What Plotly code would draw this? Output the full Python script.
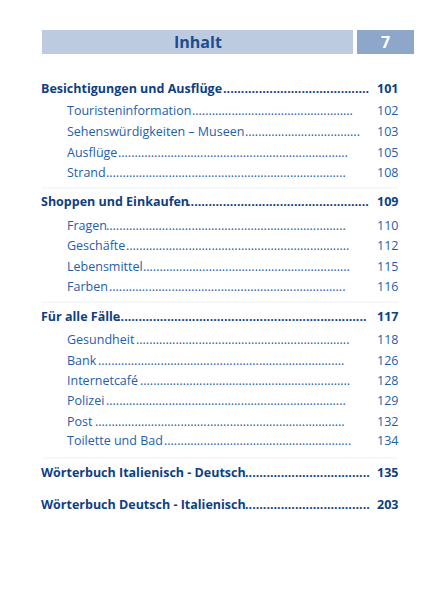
import plotly.graph_objects as go

title = "Inhalt"
page_no = "7"
labels = ["Besichtigungen und Ausflüge", "Touristeninformation", "Sehenswürdigkeiten – Museen", "Ausflüge", "Strand",
          "Shoppen und Einkaufen", "Fragen", "Geschäfte", "Lebensmittel", "Farben",
          "Für alle Fälle", "Gesundheit", "Bank", "Internetcafé", "Polizei", "Post", "Toilette und Bad",
          "Wörterbuch Italienisch - Deutsch", "Wörterbuch Deutsch - Italienisch"]
pages = ["101", "102", "103", "105", "108", "109", "110", "112", "115", "116",
         "117", "118", "126", "128", "129", "132", "134", "135", "203"]
levels = [0, 1, 1, 1, 1, 0, 1, 1, 1, 1, 0, 1, 1, 1, 1, 1, 1, 0, 0]
ypos = [88, 110, 131, 152, 172, 201, 225, 245, 266, 286, 316, 339, 360, 380, 400, 421, 440, 472, 504]
# approximate rendered label widths (layout helper)
widths = [181, 124, 177, 50, 38, 145, 38, 58, 75, 41, 75, 68, 30, 72, 38, 27, 96, 203, 203]

NAVY = "#0f3f7f"
BLUE = "#2460a8"
FONT = "Open Sans"

fig = go.Figure()
fig.add_trace(go.Scatter(x=[8, 437], y=[8, 608], mode="markers", marker=dict(opacity=0), hoverinfo="skip"))

shapes = [
    dict(type="rect", x0=42, x1=353, y0=30, y1=54, fillcolor="#bccbe0", line_width=0, layer="below"),
    dict(type="rect", x0=357, x1=414, y0=30, y1=54, fillcolor="#8ea6c9", line_width=0, layer="below"),
]
for yy in [188, 302, 458]:
    shapes.append(dict(type="line", x0=42, x1=398, y0=yy, y1=yy, line=dict(color="#eef0f4", width=1)))

ann = [
    dict(x=198, y=42, text="<b>Inhalt</b>", font=dict(family=FONT, size=16, color="#1d4d8e"), showarrow=False),
    dict(x=385, y=42, text="<b>7</b>", font=dict(family=FONT, size=16, color="white"), showarrow=False),
]
right = 397
for lab, pg, lv, yy, w in zip(labels, pages, levels, ypos, widths):
    bold = lv == 0
    col = NAVY if bold else BLUE
    x0 = 42 if bold else 68
    size = 12.5
    pgtxt = f"<b>{pg}</b>" if bold else pg
    labtxt = f"<b>{lab}</b>" if bold else lab
    dstart = x0 + w + 1
    dend = right - 25
    n = max(int((dend - dstart) / 3.6), 1)
    dots = ("<b>" + "." * n + "</b>") if bold else "." * n
    ann.append(dict(x=dstart - 3, y=yy, xanchor="left", text=dots, showarrow=False,
                    font=dict(family=FONT, size=size, color=col)))
    ann.append(dict(x=x0 - 3, y=yy, xanchor="left", text=labtxt, showarrow=False,
                    font=dict(family=FONT, size=size, color=col)))
    ann.append(dict(x=right + 3, y=yy, xanchor="right", text=pgtxt, showarrow=False,
                    font=dict(family=FONT, size=size, color=col)))

fig.update_layout(width=429, height=600, margin=dict(l=0, r=0, t=0, b=0),
                  plot_bgcolor="white", paper_bgcolor="white", showlegend=False,
                  xaxis=dict(range=[8, 437], visible=False, fixedrange=True),
                  yaxis=dict(range=[608, 8], visible=False, fixedrange=True),
                  shapes=shapes, annotations=ann)
fig.write_html("out.html", config={"displayModeBar": False})
